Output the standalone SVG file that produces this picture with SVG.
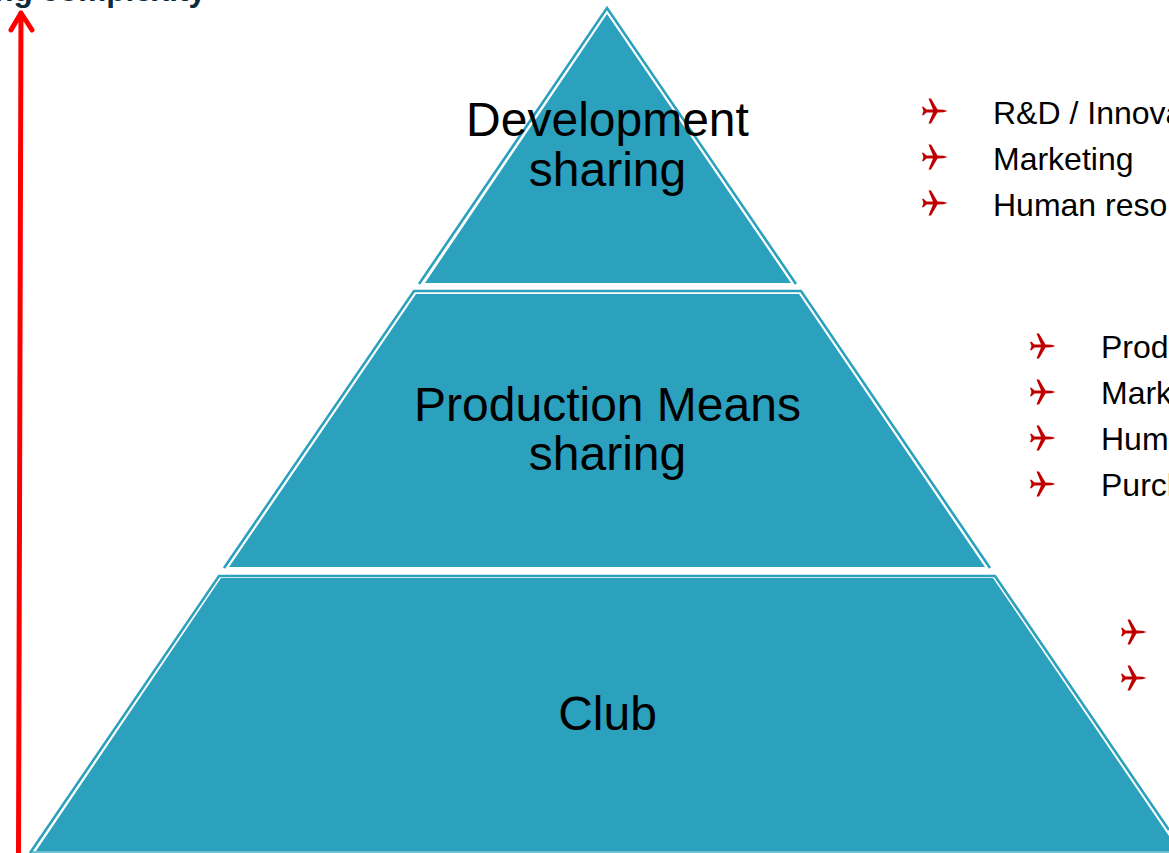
<svg xmlns="http://www.w3.org/2000/svg" width="1169" height="853" viewBox="0 0 1169 853">
<style>
.t{font-family:"Liberation Sans",Arial,sans-serif;fill:#000}
.c{font-size:48px;text-anchor:middle}
.l{font-size:32px}
.f{fill:#2CA1BE}
.o{fill:none;stroke:#2CA1BE;stroke-width:2.6}
.a{fill:none;stroke:#FF0000;stroke-width:5;stroke-linecap:round;stroke-linejoin:round}
</style>
<defs>
<path id="p" fill="#C00000" d="M13.5,0 L9.5,-1.2 L3.5,-1.5 L-3,-12.5 L-5.5,-12.5 L-1,-1.5 L-7.5,-1.5 L-10.5,-4.2 L-12,-4.2 L-10.5,0 L-12,4.2 L-10.5,4.2 L-7.5,1.5 L-1,1.5 L-5.5,12.5 L-3,12.5 L3.5,1.5 L9.5,1.2 Z"/>
</defs>
<g id="connectors">
<path class="a" d="M18.5,853 L21,13 M11,30 L21,13 L32,30"/>
</g>
<text id="axis-label" class="t" x="206" y="1" text-anchor="end" font-size="31.5" font-weight="bold" style="fill:#0F2B3A">ng complexity</text>
<g id="level-development">
<polygon class="f" points="607,14 791,283 425,283"/>
<polyline class="o" points="419,284 607,8 796,284"/>
<text class="t c" x="607.5" y="136">Development</text>
<text class="t c" x="607.5" y="186">sharing</text>
</g>
<g id="level-production">
<polygon class="f" points="416,294 799,294 985,567 229,567"/>
<polyline class="o" points="224,568 414,291 801,291 990,568"/>
<text class="t c" x="607.5" y="421">Production Means</text>
<text class="t c" x="607.5" y="470">sharing</text>
</g>
<g id="level-club">
<polygon class="f" points="221,578 993,578 1169,836 1169,851 36,851"/>
<rect x="30" y="851" width="1139" height="2" fill="#6FBFD3"/>
<polyline class="o" points="30,853 219,576 995,576 1169,830"/>
<text class="t c" x="607.5" y="730">Club</text>
</g>
<g id="list-development">
<use href="#p" x="934" y="111"/><use href="#p" x="934" y="157"/><use href="#p" x="934" y="203"/>
<text class="t l" x="993" y="124">R&amp;D / Innova</text>
<text class="t l" x="993" y="170">Marketing</text>
<text class="t l" x="993" y="216">Human reso</text>
</g>
<g id="list-production">
<use href="#p" x="1042" y="346"/><use href="#p" x="1042" y="392"/><use href="#p" x="1042" y="438"/><use href="#p" x="1042" y="484"/>
<text class="t l" x="1101" y="358">Prod</text>
<text class="t l" x="1101" y="404">Mark</text>
<text class="t l" x="1101" y="450">Hum</text>
<text class="t l" x="1101" y="496">Purch</text>
</g>
<g id="list-club">
<use href="#p" x="1133" y="632"/><use href="#p" x="1133" y="678"/>
</g>
</svg>
